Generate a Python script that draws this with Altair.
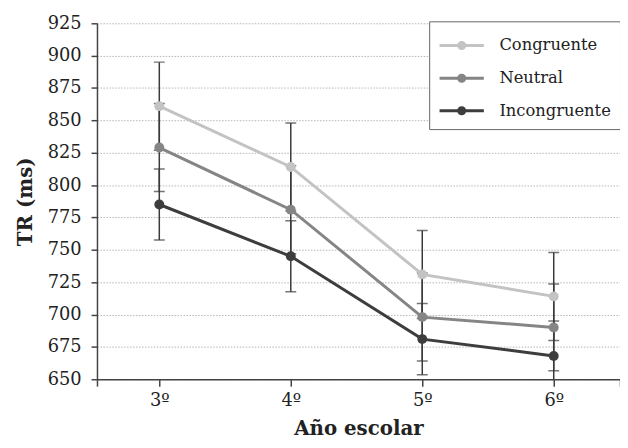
import altair as alt
import pandas as pd

grades = [3, 4, 5, 6]
grade_labels = ["3º", "4º", "5º", "6º"]
conditions = ["Congruente", "Neutral", "Incongruente"]
colors = ["#c3c3c3", "#858585", "#3d3d3d"]
congruente = [861, 814, 731, 714]
neutral = [829, 781, 698, 690]
incongruente = [785, 745, 681, 668]
err_congruente = [34, 34, 34, 34]
err_neutral = [34, 34, 34, 33.5]
err_incongruente = [27.5, 27.5, 27.5, 27]
y_ticks = list(range(650, 926, 25))
x_domain = [2.526, 6.504]

rows = []
for cond, vals, errs in [("Congruente", congruente, err_congruente),
                         ("Neutral", neutral, err_neutral),
                         ("Incongruente", incongruente, err_incongruente)]:
    for g, v, e in zip(grades, vals, errs):
        rows.append({"grade": g, "cond": cond, "value": v, "lo": v - e, "hi": v + e})
df = pd.DataFrame(rows)

label_expr = "''"
for g, lab in reversed(list(zip(grades, grade_labels))):
    label_expr = f"datum.value == {g} ? '{lab}' : ({label_expr})"

FONT = "DejaVu Serif"
AX = "#444444"

x = alt.X("grade:Q",
          scale=alt.Scale(domain=x_domain, nice=False, zero=False),
          axis=alt.Axis(values=[x_domain[0]] + grades + [x_domain[1]], labelExpr=label_expr,
                        title="Año escolar", grid=False, tickSize=7, labelPadding=6,
                        titlePadding=9, labelOverlap=False, labelFontSize=18))
y_scale = alt.Scale(domain=[650, 925], nice=False, zero=False)
y_axis = alt.Axis(values=y_ticks, title="TR (ms)", tickSize=6, labelPadding=10,
                  titlePadding=12, grid=True, labelOverlap=False, labelFontSize=18)


def yenc(field):
    return alt.Y(f"{field}:Q", scale=y_scale, axis=y_axis)


color = alt.Color("cond:N",
                  scale=alt.Scale(domain=conditions, range=colors),
                  legend=alt.Legend(title=None, orient="none", legendX=336, legendY=-2,
                                    symbolType="M-1,0L2.2,0M0.38,0A0.22,0.22 0 1 1 0.82,0A0.22,0.22 0 1 1 0.38,0Z",
                                    symbolSize=784, symbolStrokeWidth=3, labelOffset=31,
                                    padding=9, rowPadding=8, fillColor="white",
                                    strokeColor="#666666", labelFont=FONT, labelFontSize=16.5,
                                    labelColor="#222222", labelLimit=300))

base = alt.Chart(df)
rules = base.mark_rule(color="#3a3a3a", strokeWidth=1.5, clip=True).encode(
    x=x, y=yenc("lo"), y2="hi:Q")
cap_lo = base.mark_tick(color="#3a3a3a", orient="horizontal", size=11, thickness=1.5, clip=True).encode(
    x=x, y=yenc("lo"))
cap_hi = base.mark_tick(color="#3a3a3a", orient="horizontal", size=11, thickness=1.5, clip=True).encode(
    x=x, y=yenc("hi"))
lines = base.mark_line(strokeWidth=3).encode(x=x, y=yenc("value"), color=color)
points = base.mark_point(filled=True, size=100, opacity=1).encode(x=x, y=yenc("value"), color=color)

chart = alt.layer(rules, cap_lo, cap_hi, lines, points).properties(
    width=529, height=360,
    autosize=alt.AutoSizeParams(type="none"),
    padding={"left": 90, "top": 13, "right": 0, "bottom": 60},
).configure_view(stroke=None).configure_axis(
    labelFont=FONT, labelFontSize=18, labelColor="#222222",
    titleFont=FONT, titleFontSize=20, titleFontWeight="bold", titleColor="#222222",
    domainColor=AX, domainWidth=1.5, tickColor=AX, tickWidth=1.5,
    gridColor="#b5b5b5", gridDash=[1.5, 1.5], gridWidth=1,
)

chart.save("out.html", embed_options={"renderer": "svg", "actions": False})
